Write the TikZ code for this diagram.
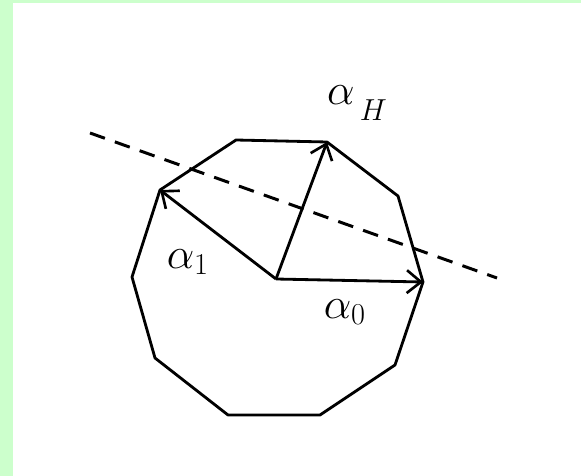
\documentclass[tikz,border=0pt]{standalone}
\usepackage{amsmath}
\usepackage{tikz}
\usetikzlibrary{arrows.meta}

\begin{document}
\begin{tikzpicture}[
  x=0.02cm, y=-0.02cm,
  edge/.style={draw, line width=1.6pt, line join=round},
  root/.style={draw, line width=1.6pt, -{Straight Barb[length=8pt,width=13pt,line width=1.5pt]}},
  mirror/.style={draw, line width=1.7pt, dash pattern=on 9pt off 6pt},
  label/.style={inner sep=0pt, font=\fontsize{25}{28}\selectfont}
]
% page and green margin
\fill[white] (0,0) rectangle (581,476);
\fill[green!20] (0,0) rectangle (13,476);
\fill[green!20] (0,0) rectangle (581,3);
\useasboundingbox (0,0) rectangle (581,476);

% decagon corners
\coordinate (v1) at (236,140);
\coordinate (v2) at (327,142);
\coordinate (v3) at (398,196);
\coordinate (v4) at (423,282);
\coordinate (v5) at (395,365);
\coordinate (v6) at (320,415);
\coordinate (v7) at (228,415);
\coordinate (v8) at (155,358);
\coordinate (v9) at (132,277);
\coordinate (v10) at (160,190);
\coordinate (origin) at (276,279);

\path [edge] (v1) -- (v2) -- (v3) -- (v4) -- (v5) -- (v6) -- (v7) -- (v8) -- (v9) -- (v10) -- cycle;

% reflecting hyperplane
\coordinate (h1) at (90,133);
\coordinate (h2) at (497,278);
\path [mirror] (h1) -- (h2);

% roots
\path [root] (origin) -- (v4);
\path [root] (origin) -- (v2);
\path [root] (origin) -- (v10);

\node [label] (aH) at (357,103) {$\alpha\kern3pt\raisebox{-9pt}{$\scriptstyle H$}$};
\node [label] (a1) at (188,262) {$\alpha_1$};
\node [label] (a0) at (345,312) {$\alpha_0$};
\end{tikzpicture}
\end{document}
